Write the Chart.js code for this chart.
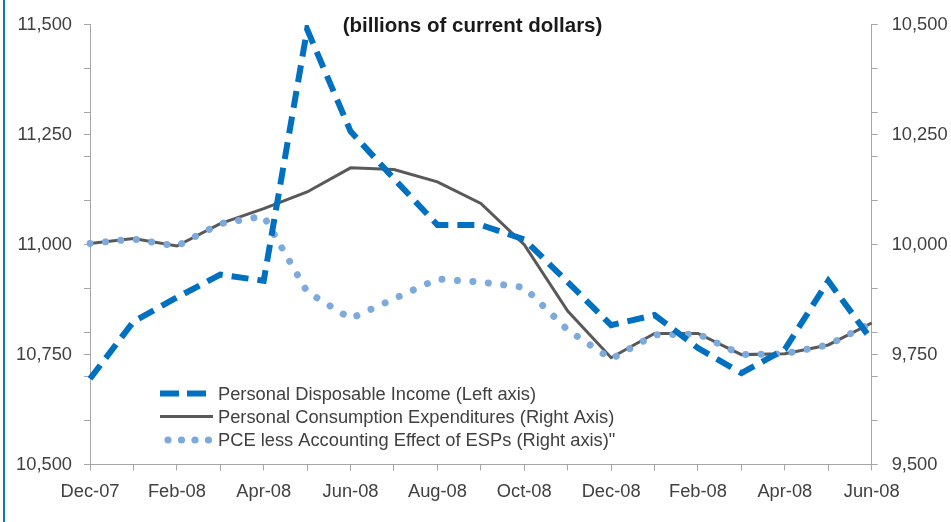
<!DOCTYPE html>
<html>
<head>
<meta charset="utf-8">
<script src="https://cdn.jsdelivr.net/npm/chart.js@4.4.1/dist/chart.umd.min.js"></script>
<style>
  html, body { margin: 0; padding: 0; background: #ffffff; }
  #wrap { position: relative; width: 951px; height: 522px; overflow: hidden; background: #fff; }
  #edge { position: absolute; left: 3px; top: 0; width: 2px; height: 522px; background: #0B74C4; }
</style>
</head>
<body>
<div id="wrap">
  <canvas id="c" width="951" height="522"></canvas>
  <div id="edge"></div>
</div>
<script>
// ---- data ----
const months = ['Dec-07','Jan-08','Feb-08','Mar-08','Apr-08','May-08','Jun-08','Jul-08','Aug-08','Sep-08',
                'Oct-08','Nov-08','Dec-08','Jan-09','Feb-09','Mar-09','Apr-09','May-09','Jun-09'];
const tickLabels = ['Dec-07','','Feb-08','','Apr-08','','Jun-08','','Aug-08','','Oct-08','','Dec-08','',
                    'Feb-08','','Apr-08','','Jun-08'];
const personalDisposableIncome = [10695, 10825, 10880, 10932, 10918, 11490, 11258, 11150, 11045, 11045,
                                  11012, 10915, 10817, 10840, 10765, 10708, 10762, 10918, 10783];
const personalConsumption = [10003, 10014, 9997, 10048, 10082, 10120, 10175, 10171, 10143, 10094,
                             10000, 9849, 9743, 9798, 9798, 9750, 9752, 9772, 9822];
const pceLessESP = [10003, 10013, 9997, 10048, 10065, 9893, 9832, 9877, 9922, 9915,
                    9903, 9806, 9740, 9795, 9797, 9750, 9752, 9772, 9822];
const seriesNames = ['Personal Disposable Income (Left axis)',
                     'Personal Consumption Expenditures (Right Axis)',
                     'PCE less Accounting Effect of ESPs (Right axis)"'];
const titleText = '(billions of current dollars)';
const leftTicks = { min: 10500, max: 11500 };
const rightTicks = { min: 9500, max: 10500 };

// ---- styling ----
const FONT = "'Liberation Sans', Arial, sans-serif";
const TXT = '#404040';
const AXIS = '#A6A6A6';

const tickColor = (ctx) => {
  const v = ctx.tick ? ctx.tick.value : null;
  if (v === null) return 'rgba(0,0,0,0)';
  return (v % 100 === 0 || v % 250 === 0) ? AXIS : 'rgba(0,0,0,0)';
};
const fmt = (v) => (v % 250 === 0) ? Number(v).toLocaleString('en-US') : '';

const titlePlugin = {
  id: 'subTitle',
  afterDraw(chart) {
    const c = chart.ctx;
    c.save();
    c.font = "bold 20.5px " + FONT;
    c.fillStyle = '#1a1a1a';
    c.textAlign = 'center';
    c.textBaseline = 'middle';
    c.fillText(titleText, 472.5, 26);
    c.restore();
  }
};

const legendPlugin = {
  id: 'insideLegend',
  afterDraw(chart) {
    const c = chart.ctx;
    const rows = [393.5, 416.5, 440];
    chart.data.datasets.forEach((ds, i) => {
      const y = rows[i];
      c.save();
      c.strokeStyle = ds.borderColor;
      c.fillStyle = ds.borderColor;
      if (i === 0) {
        c.lineWidth = 6; c.lineCap = 'butt'; c.setLineDash([19, 8]);
        c.beginPath(); c.moveTo(160, y); c.lineTo(206, y); c.stroke();
      } else if (i === 1) {
        c.lineWidth = 3; c.lineCap = 'butt';
        c.beginPath(); c.moveTo(160, y); c.lineTo(213, y); c.stroke();
      } else {
        [168, 181.5, 195, 208.5].forEach(x => { c.beginPath(); c.arc(x, y, 3.6, 0, Math.PI * 2); c.fill(); });
      }
      c.setLineDash([]);
      c.font = "18.3px " + FONT;
      c.fillStyle = TXT;
      c.textAlign = 'left';
      c.textBaseline = 'middle';
      c.fillText(ds.label, 218, y + 1);
      c.restore();
    });
  }
};

new Chart(document.getElementById('c'), {
  type: 'line',
  data: {
    labels: months,
    datasets: [
      { label: seriesNames[0], data: personalDisposableIncome, yAxisID: 'yL',
        borderColor: '#0070C0', borderWidth: 6, borderDash: [17, 9], borderCapStyle: 'butt',
        pointRadius: 0, tension: 0, fill: false, order: 0 },
      { label: seriesNames[1], data: personalConsumption, yAxisID: 'yR',
        borderColor: '#595959', borderWidth: 3, pointRadius: 0, tension: 0, fill: false, order: 2 },
      { label: seriesNames[2], data: pceLessESP, yAxisID: 'yR',
        borderColor: '#7DAADD', borderWidth: 7, borderDash: [0.01, 15.5], borderCapStyle: 'round',
        pointRadius: 0, tension: 0, fill: false, order: 1 }
    ]
  },
  options: {
    responsive: false,
    animation: false,
    layout: { padding: { top: 24.5, left: 0, right: 0, bottom: 0 } },
    plugins: { legend: { display: false }, title: { display: false }, tooltip: { enabled: false } },
    scales: {
      x: {
        type: 'category',
        offset: false,
        grid: { display: true, drawOnChartArea: false, drawTicks: true, tickLength: 6, color: AXIS, offset: false },
        border: { display: true, color: AXIS, width: 1 },
        ticks: { autoSkip: false, maxRotation: 0, minRotation: 0, padding: 10,
                 color: TXT, font: { family: FONT, size: 18.3 },
                 callback: (v, i) => tickLabels[i] },
        afterFit: (s) => { s.height = 57.5; }
      },
      yL: {
        position: 'left', min: leftTicks.min, max: leftTicks.max,
        grid: { drawOnChartArea: false, drawTicks: true, tickLength: 6, color: tickColor },
        border: { display: true, color: AXIS, width: 1 },
        ticks: { stepSize: 50, autoSkip: false, padding: 12, color: TXT,
                 font: { family: FONT, size: 18.3 }, callback: fmt },
        afterFit: (s) => { s.width = 90; }
      },
      yR: {
        position: 'right', min: rightTicks.min, max: rightTicks.max,
        grid: { drawOnChartArea: false, drawTicks: true, tickLength: 6, color: tickColor },
        border: { display: true, color: AXIS, width: 1 },
        ticks: { stepSize: 50, autoSkip: false, padding: 14, color: TXT,
                 font: { family: FONT, size: 18.3 }, callback: fmt },
        afterFit: (s) => { s.width = 79.3; }
      }
    }
  },
  plugins: [titlePlugin, legendPlugin]
});
</script>
</body>
</html>
